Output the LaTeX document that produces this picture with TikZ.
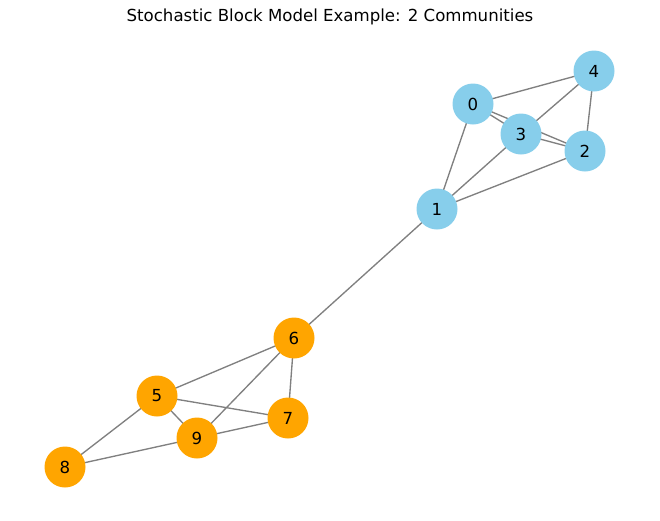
\documentclass[tikz,border=0pt]{standalone}
\usepackage{fontspec}
\setmainfont{DejaVu Sans}
\usetikzlibrary{backgrounds}
\definecolor{skyb}{HTML}{87CEEB}
\definecolor{orng}{HTML}{FFA500}
\definecolor{edgegray}{HTML}{808080}
\begin{document}
\begin{tikzpicture}[x=1pt,y=-1pt,
  vtx/.style={circle,minimum size=41pt,inner sep=0pt,font=\fontsize{16.6}{19}\selectfont},
  blue/.style={vtx,fill=skyb},
  orange/.style={vtx,fill=orng},
  edge/.style={draw=edgegray,line width=1.35pt}]
\useasboundingbox (0,0) rectangle (660,520);
\node[font=\fontsize{16.6}{19}\selectfont] (title) at (330,17) {Stochastic Block Model Example: 2 Communities};
\node[blue] (n0) at (473,104) {0};
\node[blue] (n1) at (437,209) {1};
\node[blue] (n2) at (585,151) {2};
\node[blue] (n3) at (521,134) {3};
\node[blue] (n4) at (594,71) {4};
\node[orange] (n5) at (157,396) {5};
\node[orange] (n6) at (294,338) {6};
\node[orange] (n7) at (288,418) {7};
\node[orange] (n8) at (65,467) {8};
\node[orange] (n9) at (197,438) {9};
\begin{scope}[on background layer]
\path[edge] (n0.center) -- (n4.center) (n0.center) -- (n3.center) (n0.center) -- (n2.center)
 (n0.center) -- (n1.center) (n3.center) -- (n4.center) (n3.center) -- (n2.center)
 (n3.center) -- (n1.center) (n4.center) -- (n2.center) (n1.center) -- (n2.center)
 (n1.center) -- (n6.center) (n6.center) -- (n5.center) (n6.center) -- (n9.center)
 (n6.center) -- (n7.center) (n5.center) -- (n7.center) (n5.center) -- (n9.center)
 (n5.center) -- (n8.center) (n8.center) -- (n9.center) (n9.center) -- (n7.center);
\end{scope}
\end{tikzpicture}
\end{document}
